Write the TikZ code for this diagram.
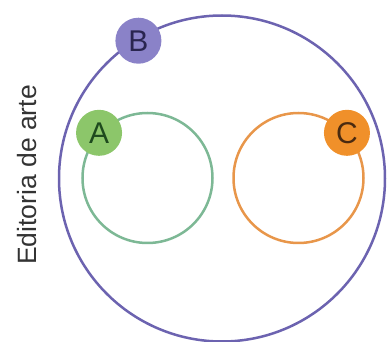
\documentclass[tikz,border=0pt]{standalone}
\usepackage{fontspec}
\setmainfont{Liberation Sans}
\usepackage{xcolor}
\usetikzlibrary{positioning}

\definecolor{setB}{HTML}{6C63B0}
\definecolor{setBfill}{HTML}{8A82C8}
\definecolor{setBtext}{HTML}{2A2550}
\definecolor{setA}{HTML}{7DB895}
\definecolor{setAfill}{HTML}{8CC66A}
\definecolor{setAtext}{HTML}{1E4A1E}
\definecolor{setC}{HTML}{E8964A}
\definecolor{setCfill}{HTML}{F0902A}
\definecolor{setCtext}{HTML}{4A2A10}

\tikzset{
  setline/.style={circle, draw=#1, line width=2.5pt, inner sep=0pt},
  badge/.style={circle, fill=#1, inner sep=0pt, minimum size=46pt,
    font=\fontsize{30}{30}\selectfont},
}

\begin{document}
\begin{tikzpicture}[x=1pt,y=-1pt]
				  \useasboundingbox (0,0) rectangle (389,342);
				  % the three sets
				  \node[setline=setB, minimum size=326pt] (big) at (222,178.5) {};
				  \node[setline=setA, minimum size=130pt] (left) at (147.5,178) {};
				  \node[setline=setC, minimum size=130pt] (right) at (298.5,178) {};
				  % letters sitting on the outlines
				  \node[badge=setBfill, text=setBtext] (B) at ([shift={(1,3)}]big.121) {B};
				  \node[badge=setAfill, text=setAtext] (A) at (left.137) {A};
				  \node[badge=setCfill, text=setCtext] (C) at (right.43) {C};
				  \node[rotate=90, text=black!80, font=\fontsize{26.5}{26.5}\selectfont] (credit) at (27,175) {Editoria de arte};
				\end{tikzpicture}
\end{document}
